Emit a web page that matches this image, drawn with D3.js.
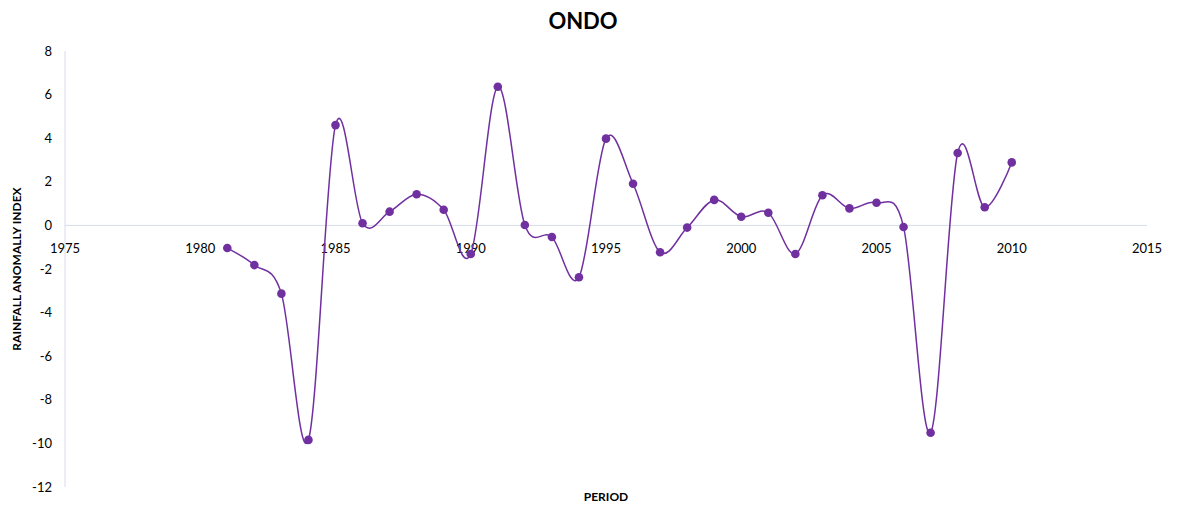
<!DOCTYPE html>
<html>
<head>
<meta charset="utf-8">
<script src="https://cdn.jsdelivr.net/npm/d3@7"></script>
<style>
  body { margin: 0; background: #fff; }
  text { font-family: Lato, "Open Sans", sans-serif; fill: #000; }
</style>
</head>
<body>
<svg id="chart" width="1178" height="508"></svg>
<script>
// rainfall anomaly index, Ondo, 1981-2010
var years = [1981, 1982, 1983, 1984, 1985, 1986, 1987, 1988, 1989, 1990,
             1991, 1992, 1993, 1994, 1995, 1996, 1997, 1998, 1999, 2000,
             2001, 2002, 2003, 2004, 2005, 2006, 2007, 2008, 2009, 2010];
var rai = [-1.04, -1.82, -3.13, -9.84, 4.6, 0.1, 0.63, 1.43, 0.72, -1.31,
           6.36, 0.02, -0.53, -2.38, 3.98, 1.91, -1.23, -0.1, 1.17, 0.4,
           0.58, -1.31, 1.38, 0.78, 1.04, -0.07, -9.51, 3.32, 0.83, 2.89];
var xTicks = [1975, 1980, 1985, 1990, 1995, 2000, 2005, 2010, 2015];
var yTicks = [8, 6, 4, 2, 0, -2, -4, -6, -8, -10, -12];

var svg = d3.select("#chart");
var lineColor = "#7030a0";
var axisColor = "#d6dce8";

var x = d3.scaleLinear().domain([1975, 2015]).range([65, 1147]);
var y = d3.scaleLinear().domain([-12, 8]).range([487, 51]);

// axis lines (vertical at left, horizontal through zero)
svg.append("line")
   .attr("x1", x(1975)).attr("x2", x(1975))
   .attr("y1", y(8)).attr("y2", y(-12))
   .attr("stroke", axisColor).attr("stroke-width", 1);
svg.append("line")
   .attr("x1", x(1975)).attr("x2", x(2015))
   .attr("y1", y(0)).attr("y2", y(0))
   .attr("stroke", axisColor).attr("stroke-width", 1);

// tick labels
svg.selectAll("text.ytick")
   .data(yTicks)
   .enter()
   .append("text")
   .attr("class", "ytick")
   .attr("x", 52)
   .attr("y", function(d){ return y(d); })
   .attr("dy", "0.35em")
   .attr("text-anchor", "end")
   .style("font-size", "13px")
   .text(function(d){ return d; });

svg.selectAll("text.xtick")
   .data(xTicks)
   .enter()
   .append("text")
   .attr("class", "xtick")
   .attr("x", function(d){ return x(d); })
   .attr("y", y(0) + 23)
   .attr("dy", "0.35em")
   .attr("text-anchor", "middle")
   .style("font-size", "13px")
   .text(function(d){ return d; });

// smoothed series line
var pts = years.map(function(d, i){ return [d, rai[i]]; });
var line = d3.line()
   .x(function(d){ return x(d[0]); })
   .y(function(d){ return y(d[1]); })
   .curve(d3.curveCatmullRom.alpha(0));

svg.append("path")
   .datum(pts)
   .attr("d", line)
   .attr("fill", "none")
   .attr("stroke", lineColor)
   .attr("stroke-width", 1.5);

svg.selectAll("circle.pt")
   .data(pts)
   .enter()
   .append("circle")
   .attr("class", "pt")
   .attr("cx", function(d){ return x(d[0]); })
   .attr("cy", function(d){ return y(d[1]); })
   .attr("r", 4.3)
   .attr("fill", lineColor);

// titles
svg.append("text")
   .attr("x", 583).attr("y", 21)
   .attr("dy", "0.35em")
   .attr("text-anchor", "middle")
   .style("font-size", "22px")
   .style("font-weight", "bold")
   .text("ONDO");

svg.append("text")
   .attr("x", 606).attr("y", 497)
   .attr("dy", "0.35em")
   .attr("text-anchor", "middle")
   .style("font-size", "12px")
   .style("font-weight", "bold")
   .text("PERIOD");

svg.append("text")
   .attr("transform", "translate(17,269) rotate(-90)")
   .attr("dy", "0.35em")
   .attr("text-anchor", "middle")
   .style("font-size", "12px")
   .style("font-weight", "bold")
   .text("RAINFALL ANOMALLY INDEX");
</script>
</body>
</html>
